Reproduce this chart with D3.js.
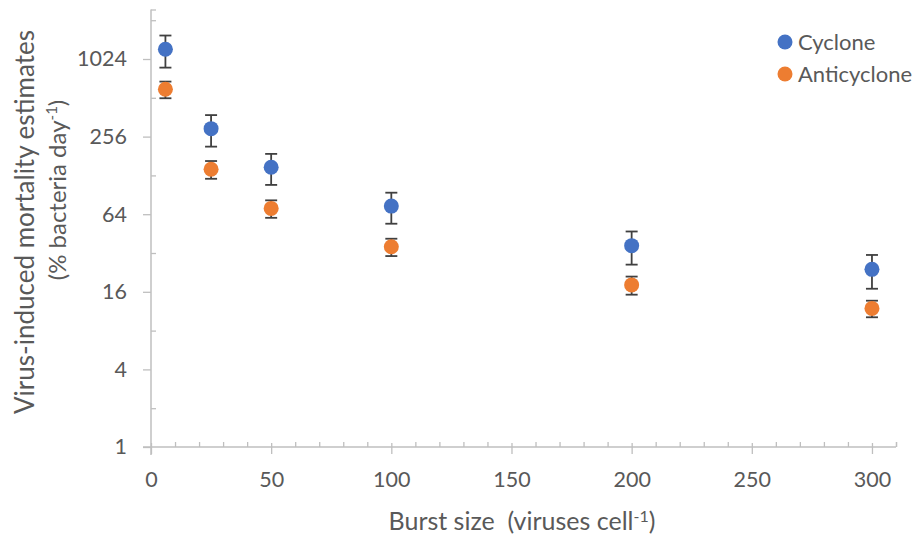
<!DOCTYPE html>
<html>
<head>
<meta charset="utf-8">
<script src="https://cdn.jsdelivr.net/npm/d3@7"></script>
<style>
  body { margin: 0; background: #fff; }
  text { font-family: Lato, "Open Sans", sans-serif; fill: #595959; }
</style>
</head>
<body>
<div id="chart"></div>
<script>
// data
var burstSizes = [6, 25, 50, 100, 200, 300]
var cycloneMean = [1218, 295, 148, 74, 36.5, 23.9]
var cycloneErr = [340, 81, 40, 20, 10.5, 7]
var antiMean = [596, 143, 71, 35.8, 18.1, 11.9]
var antiErr = [88, 22.5, 11, 5.5, 2.9, 1.75]
var seriesNames = ["Cyclone", "Anticyclone"]
var seriesColors = ["#4472c4", "#ed7d31"]
var yMajor = [1, 4, 16, 64, 256, 1024]
var yMinor = [2, 8, 32, 128, 512, 2048]
var xMajor = [0, 50, 100, 150, 200, 250, 300]
var xMinor = d3.range(10, 311, 10).filter(function(d) { return d % 50 !== 0 })

var width = 919
    height = 535

var svg = d3.select("#chart")
  .append("svg")
    .attr("width", width)
    .attr("height", height)

var x = d3.scaleLinear().domain([0, 310]).range([151, 896])
var y = d3.scaleLog().base(2).domain([1, 2480]).range([447, 9.5])

var axisColor = "#bfbfbf"

// y axis
var yAxis = svg.append("g")
  .attr("transform", "translate(151,0)")
  .call(d3.axisLeft(y).tickValues(yMajor).tickSize(8).tickPadding(16).tickFormat(d3.format("d")))
yAxis.select(".domain").remove()
yAxis.selectAll("line").attr("stroke", axisColor).attr("stroke-width", 1.3)
yAxis.selectAll("text").style("font-size", "21.5px").attr("fill", "#595959")

var yMinorAxis = svg.append("g")
  .attr("transform", "translate(151,0)")
  .call(d3.axisLeft(y).tickValues(yMinor.concat([2480])).tickSize(-5).tickFormat(""))
yMinorAxis.select(".domain").remove()
yMinorAxis.selectAll("line").attr("stroke", axisColor).attr("stroke-width", 1.3)

svg.append("line")
  .attr("x1", 151).attr("x2", 151)
  .attr("y1", y(2480)).attr("y2", 455)
  .attr("stroke", axisColor).attr("stroke-width", 1.5)

// x axis
var xAxis = svg.append("g")
  .attr("transform", "translate(0,447)")
  .call(d3.axisBottom(x).tickValues(xMajor).tickSize(7).tickPadding(18))
xAxis.select(".domain").remove()
xAxis.selectAll("line").attr("stroke", axisColor).attr("stroke-width", 1.3).attr("y1", -4)
xAxis.selectAll("text").style("font-size", "21.5px").attr("fill", "#595959")

var xMinorAxis = svg.append("g")
  .attr("transform", "translate(0,447)")
  .call(d3.axisBottom(x).tickValues(xMinor.concat([310])).tickSize(-5).tickFormat(""))
xMinorAxis.select(".domain").remove()
xMinorAxis.selectAll("line").attr("stroke", axisColor).attr("stroke-width", 1.3)

svg.append("line")
  .attr("x1", 143).attr("x2", x(310))
  .attr("y1", 447).attr("y2", 447)
  .attr("stroke", axisColor).attr("stroke-width", 1.5)

// axis titles
var yTitle = svg.append("text")
  .attr("transform", "translate(34,222) rotate(-90)")
  .attr("text-anchor", "middle")
  .style("font-size", "26px")
  .text("Virus-induced mortality estimates")

var yTitle2 = svg.append("text")
  .attr("transform", "translate(66,190) rotate(-90)")
  .attr("text-anchor", "middle")
  .style("font-size", "24px")
yTitle2.append("tspan").text("(% bacteria day")
yTitle2.append("tspan").attr("dy", -9).style("font-size", "15px").text("-1")
yTitle2.append("tspan").attr("dy", 9).text(")")

var xTitle = svg.append("text")
  .attr("x", 522).attr("y", 530)
  .attr("text-anchor", "middle")
  .style("font-size", "25px")
xTitle.append("tspan").text("Burst size\u00a0 (viruses cell")
xTitle.append("tspan").attr("dy", -8).style("font-size", "16px").text("-1")
xTitle.append("tspan").attr("dy", 8).text(")")

// series
var series = [
  { name: seriesNames[0], color: seriesColors[0], mean: cycloneMean, err: cycloneErr },
  { name: seriesNames[1], color: seriesColors[1], mean: antiMean, err: antiErr }
]

series.forEach(function(s) {
  var pts = burstSizes.map(function(b, i) { return { x: b, v: s.mean[i], e: s.err[i] } })
  var g = svg.append("g")

  var bars = g.selectAll("g.err").data(pts).enter().append("g").attr("class", "err")
    .attr("stroke", "#404040").attr("stroke-width", 1.8)
  bars.append("line")
    .attr("x1", function(d) { return x(d.x) }).attr("x2", function(d) { return x(d.x) })
    .attr("y1", function(d) { return y(d.v + d.e) }).attr("y2", function(d) { return y(d.v - d.e) })
  bars.append("line")
    .attr("x1", function(d) { return x(d.x) - 6 }).attr("x2", function(d) { return x(d.x) + 6 })
    .attr("y1", function(d) { return y(d.v + d.e) }).attr("y2", function(d) { return y(d.v + d.e) })
  bars.append("line")
    .attr("x1", function(d) { return x(d.x) - 6 }).attr("x2", function(d) { return x(d.x) + 6 })
    .attr("y1", function(d) { return y(d.v - d.e) }).attr("y2", function(d) { return y(d.v - d.e) })

  g.selectAll("circle").data(pts).enter().append("circle")
    .attr("cx", function(d) { return x(d.x) })
    .attr("cy", function(d) { return y(d.v) })
    .attr("r", 7.5)
    .attr("fill", s.color)
})

// legend
var legend = svg.selectAll("g.legend").data(series).enter().append("g")
  .attr("class", "legend")
  .attr("transform", function(d, i) { return "translate(785," + (42 + i * 32) + ")" })
legend.append("circle").attr("r", 7.5).attr("fill", function(d) { return d.color })
legend.append("text").attr("x", 13).attr("dy", "0.35em").style("font-size", "22px")
  .text(function(d) { return d.name })
</script>
</body>
</html>
